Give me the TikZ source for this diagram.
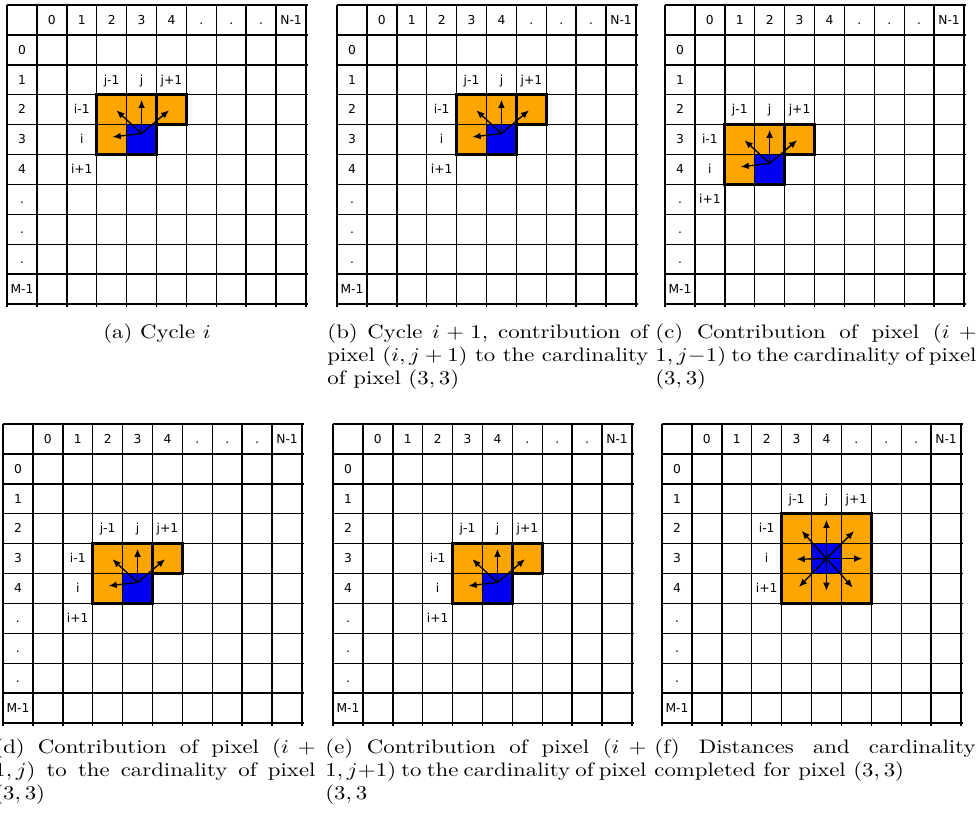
\documentclass[tikz,border=0pt]{standalone}
\usepackage{fontspec}
\usepackage{graphicx}
\usetikzlibrary{arrows.meta}

\newfontfamily\gridfont{DejaVu Sans}
\definecolor{pixorange}{RGB}{255,165,0}
\definecolor{pixblue}{RGB}{0,0,245}
\newcommand{\capbox}[1]{\scalebox{1.17}[1]{\parbox[t]{140.8pt}{\tolerance=9999 #1}}}

\begin{document}
\begin{tikzpicture}[
        x=0.513pt, y=-0.513pt,
        gridline/.style={line width=0.75pt},
        boldline/.style={line width=1.4pt},
        lbl/.style={font=\gridfont\fontsize{6.3}{7}\selectfont, inner sep=0pt, anchor=base, yshift=-2.2pt},
        parrow/.style={-{Latex[length=4.2pt, width=3.5pt]}, line width=0.7pt},
        capt/.style={inner sep=0pt, anchor=base west}
    ]
    \useasboundingbox (0,0) rectangle (979,817);

    \foreach \name/\ox/\oy/\bi/\bj/\full in {a/7/5/3/3/0, b/337/5/3/4/0, c/665/5/4/2/0, d/3/424/4/3/0, e/333/424/4/4/0, f/662/424/3/4/1}{
        \begin{scope}[shift={(\ox,\oy)}, x=15.34pt, y=-15.34pt]
            \pgfmathtruncatemacro{\C}{\bj+1}
            \pgfmathtruncatemacro{\R}{\bi+1}

            % neighbours and current pixel
            \ifnum\full=1
                \fill[pixorange] (\C-1,\R-1) rectangle (\C+2,\R+2);
            \else
                \fill[pixorange] (\C-1,\R-1) rectangle (\C+2,\R);
                \fill[pixorange] (\C-1,\R) rectangle (\C,\R+1);
            \fi
            \fill[pixblue] (\C,\R) rectangle (\C+1,\R+1);

            % grid
            \foreach \k in {0,...,10}{
                \draw[gridline] (\k,0) -- (\k,10.1);
                \draw[gridline] (0,\k) -- (10.08,\k);
            }

            % headers
            \foreach \lab [count=\n] in {0,1,2,3,4,{.},{.},{.},N-1}{
                \node[lbl] (\name-c\n) at (\n+0.5,0.5) {\lab};
            }
            \foreach \lab [count=\n] in {0,1,2,3,4,{.},{.},{.},M-1}{
                \node[lbl] (\name-r\n) at (0.5,\n+0.5) {\lab};
            }

            % i and j labels
            \node[lbl] (\name-jm) at (\C-0.5,\R-1.5) {j-1};
            \node[lbl] (\name-j) at (\C+0.5,\R-1.5) {j};
            \node[lbl] (\name-jp) at (\C+1.5,\R-1.5) {j+1};
            \node[lbl] (\name-im) at (\C-1.5,\R-0.5) {i-1};
            \node[lbl] (\name-i) at (\C-1.5,\R+0.5) {i};
            \node[lbl] (\name-ip) at (\C-1.5,\R+1.5) {i+1};

            % bold outline and arrows
            \ifnum\full=1
                \draw[boldline] (\C-1,\R-1) rectangle (\C+2,\R+2);

                \coordinate (\name-o) at (\C+0.5,\R+0.5);
                \coordinate (\name-n) at (\C+0.5,\R-0.8);
                \coordinate (\name-s) at (\C+0.5,\R+1.58);
                \coordinate (\name-w) at (\C-0.5,\R+0.52);
                \coordinate (\name-e) at (\C+1.7,\R+0.5);
                \coordinate (\name-nw) at (\C-0.33,\R-0.43);
                \coordinate (\name-ne) at (\C+1.42,\R-0.42);
                \coordinate (\name-sw) at (\C-0.42,\R+1.45);
                \coordinate (\name-se) at (\C+1.38,\R+1.47);
                \foreach \d in {n,s,w,e,nw,ne,sw,se}{
                    \draw[parrow] (\name-o) -- (\name-\d);
                }
            \else
                \draw[boldline] (\C-1,\R-1) rectangle (\C+1,\R+1);
                \draw[boldline] (\C+1,\R-1) rectangle (\C+2,\R);

                \coordinate (\name-o) at (\C+0.5,\R+0.3);
                \coordinate (\name-n) at (\C+0.5,\R-0.83);
                \coordinate (\name-w) at (\C-0.47,\R+0.41);
                \coordinate (\name-nw) at (\C-0.34,\R-0.48);
                \coordinate (\name-ne) at (\C+1.42,\R-0.48);
                \foreach \d in {n,w,nw,ne}{
                    \draw[parrow] (\name-o) -- (\name-\d);
                }
            \fi
        \end{scope}
    }

    % captions
    \node[capt, anchor=base] (cap-a) at (157,338) {\scalebox{1.17}[1]{(a) Cycle $i$}};
    \node[capt] (cap-b) at (327,338) {\capbox{(b) Cycle $i+1$, contribution of\linebreak pixel $(i,j+1)$ to the cardinality\linebreak of pixel $(3,3)$}};
    \node[capt] (cap-c) at (655,338) {\capbox{(c) Contribution of pixel $(i+\penalty-10000 1,j-1)$ to the cardinality of pixel\linebreak $(3,3)$}};
    \node[capt] (cap-d) at (-6,753) {\capbox{(d) Contribution of pixel $(i+\penalty-10000 1,j)$ to the cardinality of pixel\linebreak $(3,3)$}};
    \node[capt] (cap-e) at (325,753) {\capbox{(e) Contribution of pixel $(i+\penalty-10000 1,j+1)$ to the cardinality of pixel\linebreak $(3,3$}};
    \node[capt] (cap-f) at (654,753) {\capbox{(f) Distances and cardinality\linebreak completed for pixel $(3,3)$}};
\end{tikzpicture}
\end{document}
